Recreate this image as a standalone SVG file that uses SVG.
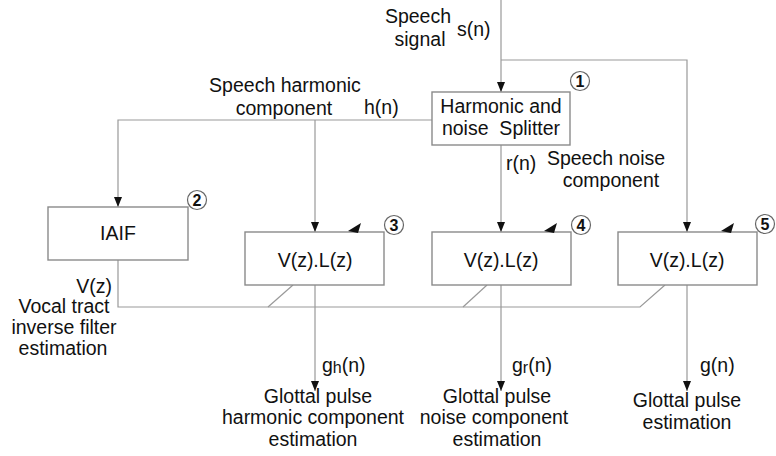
<svg xmlns="http://www.w3.org/2000/svg" width="776" height="456" viewBox="0 0 776 456">
  <defs>
    <marker id="arr" viewBox="0 0 10 10" refX="10" refY="5" markerWidth="10" markerHeight="10" markerUnits="userSpaceOnUse" orient="auto">
      <path d="M0,1 L10,5 L0,9 Z" fill="#111"/>
    </marker>
  </defs>
  <style>
    text { font-family: "Liberation Sans", Arial, sans-serif; font-size: 19.5px; fill: #111; }
    .mid { text-anchor: middle; }
    .end { text-anchor: end; }
    .box { fill: #fff; stroke: #8a8a8a; stroke-width: 1.4; }
    .ln { fill: none; stroke: #999; stroke-width: 1.2; }
    .tag { fill: #fff; stroke: #666; stroke-width: 1.2; }
    .num { font-size: 16px; font-weight: bold; text-anchor: middle; }
    .knob { fill: #111; }
    .sub { font-size: 16px; }
  </style>

  <g id="connectors">
    <!-- speech signal in -->
    <path class="ln" d="M501,0 V92" marker-end="url(#arr)"/>
    <path class="ln" d="M501,60 H687 V232" marker-end="url(#arr)"/>
    <!-- harmonic branch -->
    <path class="ln" d="M432,120 H118 V207" marker-end="url(#arr)"/>
    <path class="ln" d="M315,120 V232" marker-end="url(#arr)"/>
    <!-- noise branch -->
    <path class="ln" d="M501,145 V232" marker-end="url(#arr)"/>
    <!-- vocal tract estimate bus -->
    <path class="ln" d="M118,260 V307 H640 L665,285"/>
    <path class="ln" d="M268,307 L293,285"/>
    <path class="ln" d="M463,307 L487,285"/>
    <!-- outputs -->
    <path class="ln" d="M315,285 V391" marker-end="url(#arr)"/>
    <path class="ln" d="M501,285 V391" marker-end="url(#arr)"/>
    <path class="ln" d="M687,285 V391" marker-end="url(#arr)"/>
  </g>

  <g id="splitter">
    <rect class="box" x="432" y="92" width="138" height="53"/>
    <text class="mid" x="501" y="113">Harmonic and</text>
    <text class="mid" x="501" y="135" xml:space="preserve">noise  Splitter</text>
    <circle class="tag" cx="580" cy="81" r="9.5"/>
    <text class="num" x="580" y="87">1</text>
  </g>

  <g id="iaif">
    <rect class="box" x="48" y="207" width="140" height="53"/>
    <text class="mid" x="118" y="240">IAIF</text>
    <circle class="tag" cx="197" cy="200" r="9.5"/>
    <text class="num" x="197" y="206">2</text>
  </g>

  <g id="filter-harmonic">
    <rect class="box" x="245" y="232" width="139" height="53"/>
    <text class="mid" x="315" y="267">V(z).L(z)</text>
    <polygon class="knob" points="348,231 361,223 358,233"/>
    <circle class="tag" cx="394" cy="225" r="9.5"/>
    <text class="num" x="394" y="231">3</text>
  </g>

  <g id="filter-noise">
    <rect class="box" x="432" y="232" width="139" height="53"/>
    <text class="mid" x="501" y="267">V(z).L(z)</text>
    <polygon class="knob" points="544,231 557,223 554,233"/>
    <circle class="tag" cx="581" cy="225" r="9.5"/>
    <text class="num" x="581" y="231">4</text>
  </g>

  <g id="filter-signal">
    <rect class="box" x="618" y="232" width="139" height="53"/>
    <text class="mid" x="687" y="267">V(z).L(z)</text>
    <polygon class="knob" points="721,231 734,223 731,233"/>
    <circle class="tag" cx="765" cy="224" r="9.5"/>
    <text class="num" x="765" y="230">5</text>
  </g>

  <g id="labels">
    <text class="mid" x="418" y="23">Speech</text>
    <text class="mid" x="420" y="46">signal</text>
    <text x="457" y="36">s(n)</text>

    <text class="mid" x="285" y="92">Speech harmonic</text>
    <text class="mid" x="284" y="115">component</text>
    <text x="364" y="114">h(n)</text>

    <text x="506" y="170">r(n)</text>
    <text class="mid" x="606" y="165">Speech noise</text>
    <text class="mid" x="611" y="187">component</text>

    <text class="end" x="112" y="293">V(z)</text>
    <text class="mid" x="64" y="313">Vocal tract</text>
    <text class="mid" x="64" y="334">inverse filter</text>
    <text class="mid" x="63" y="355">estimation</text>

    <text x="322" y="372">g<tspan class="sub" dy="1">h</tspan><tspan dy="-1">(n)</tspan></text>
    <text class="mid" x="318" y="403">Glottal pulse</text>
    <text class="mid" x="313" y="424">harmonic component</text>
    <text class="mid" x="313" y="446">estimation</text>

    <text x="512" y="372">g<tspan class="sub" dy="1">r</tspan><tspan dy="-1">(n)</tspan></text>
    <text class="mid" x="497" y="403">Glottal pulse</text>
    <text class="mid" x="494" y="424">noise component</text>
    <text class="mid" x="497" y="446">estimation</text>

    <text x="700" y="372">g(n)</text>
    <text class="mid" x="687" y="407">Glottal pulse</text>
    <text class="mid" x="687" y="429">estimation</text>
  </g>
</svg>
